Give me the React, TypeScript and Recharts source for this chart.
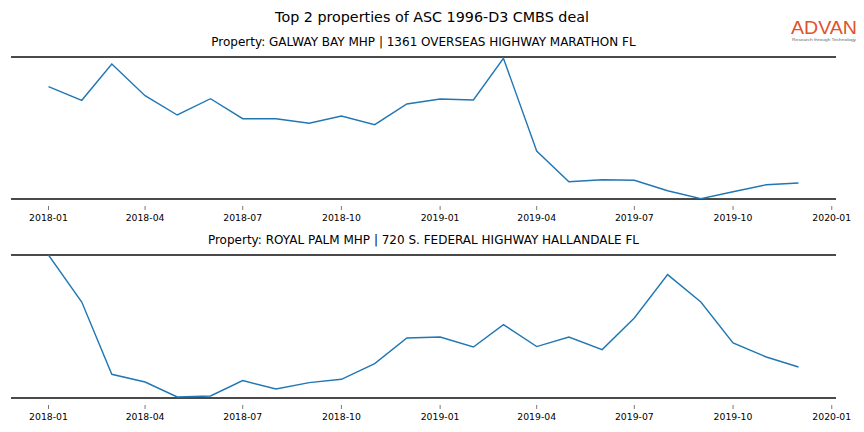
import React from "react";
import { LineChart, Line, XAxis, YAxis, ReferenceLine } from "recharts";

const months: string[] = [
  "2018-01", "2018-02", "2018-03", "2018-04", "2018-05", "2018-06",
  "2018-07", "2018-08", "2018-09", "2018-10", "2018-11", "2018-12",
  "2019-01", "2019-02", "2019-03", "2019-04", "2019-05", "2019-06",
  "2019-07", "2019-08", "2019-09", "2019-10", "2019-11", "2019-12",
];

const galwayBay: number[] = [
  112.3, 98.7, 135, 103.3, 84, 100.3, 80.3, 80.3, 75.7, 83, 74.3, 95,
  100, 99, 140.7, 48, 17.3, 19.3, 18.7, 8.3, 0.3, 7.3, 14.3, 16,
];

const royalPalm: number[] = [
  143, 96, 23.7, 16, 1, 2, 17.4, 9, 15.4, 18.7, 34.4, 60,
  61, 51, 73.4, 51.4, 61, 48.4, 80, 123.4, 96, 55, 41, 31,
];

const tickLabels: string[] = [
  "2018-01", "2018-04", "2018-07", "2018-10", "2019-01",
  "2019-04", "2019-07", "2019-10", "2020-01",
];

const mainTitle = "Top 2 properties of ASC 1996-D3 CMBS deal";
const subTitle1 = "Property: GALWAY BAY MHP | 1361 OVERSEAS HIGHWAY MARATHON FL";
const subTitle2 = "Property: ROYAL PALM MHP | 720 S. FEDERAL HIGHWAY HALLANDALE FL";

const toTs = (m: string) => {
  const [y, mo] = m.split("-").map(Number);
  return Date.UTC(y, mo - 1, 1);
};

const data1 = months.map((m, i) => ({ t: toTs(m), v: galwayBay[i] }));
const data2 = months.map((m, i) => ({ t: toTs(m), v: royalPalm[i] }));
const tickTs = tickLabels.map(toTs);
const labelOf = (ts: number) => {
  const i = tickTs.indexOf(ts);
  return i >= 0 ? tickLabels[i] : "";
};

const t0 = toTs(months[0]);
const t1 = toTs(months[months.length - 1]);
const pad = (t1 - t0) * 0.05;
const xDomain: [number, number] = [t0 - pad, t1 + pad];

const FONT = "'DejaVu Sans', sans-serif";
const SPINE = "#4a4a4a";

const Tick = (props: any) => {
  const { x, y, payload } = props;
  return (
    <g>
      <line x1={x} x2={x} y1={y + 7} y2={y + 11} stroke="#555" strokeWidth={0.8} />
      <text x={x} y={y + 22} textAnchor="middle" fontSize={9.3} fontFamily={FONT} fill="#000">
        {labelOf(payload.value)}
      </text>
    </g>
  );
};

const Panel = ({ data, yMax, top, bottom, height }: any) => (
  <LineChart
    width={864}
    height={height}
    data={data}
    margin={{ top, right: 28, left: 11, bottom: 0 }}
    style={{ position: "absolute", left: 0, top: 0 }}
  >
    <XAxis
      dataKey="t"
      type="number"
      scale="time"
      domain={xDomain}
      ticks={tickTs}
      interval={0}
      tickSize={0}
      tickMargin={0}
      tickLine={false}
      axisLine={false}
      height={height - bottom}
      tick={<Tick />}
      allowDataOverflow
    />
    <YAxis hide domain={[0, yMax]} allowDataOverflow />
    <ReferenceLine y={yMax} stroke={SPINE} strokeWidth={2} ifOverflow="extendDomain" />
    <ReferenceLine y={0} stroke={SPINE} strokeWidth={2} ifOverflow="extendDomain" />
    <Line
      type="linear"
      dataKey="v"
      stroke="#1f77b4"
      strokeWidth={1.4}
      dot={false}
      isAnimationActive={false}
    />
  </LineChart>
);

export default function App() {
  return (
    <div
      style={{
        position: "absolute",
        left: 0,
        top: 0,
        width: 864,
        height: 432,
        background: "#fff",
        overflow: "hidden",
      }}
    >
      <Panel data={data1} yMax={142} top={57} bottom={199} height={232} />
      <Panel data={data2} yMax={143} top={255} bottom={398} height={432} />
      <svg
        width={864}
        height={432}
        style={{ position: "absolute", left: 0, top: 0, pointerEvents: "none" }}
      >
        <text x={432} y={22} textAnchor="middle" fontSize={14.3} fontFamily={FONT} fill="#000">
          {mainTitle}
        </text>
        <text x={423.5} y={46} textAnchor="middle" fontSize={12} fontFamily={FONT} fill="#000">
          {subTitle1}
        </text>
        <text x={423.5} y={244} textAnchor="middle" fontSize={12} fontFamily={FONT} fill="#000">
          {subTitle2}
        </text>
        <text
          x={791}
          y={34}
          fontSize={18}
          fontFamily="'Liberation Sans', Arial, sans-serif"
          fill="#e0522a"
          textLength={66}
          lengthAdjust="spacingAndGlyphs"
        >
          ADVAN
        </text>
        <text
          x={792}
          y={40.5}
          fontSize={4.3}
          fontFamily="'Liberation Sans', Arial, sans-serif"
          fill="#666"
          textLength={64}
          lengthAdjust="spacingAndGlyphs"
        >
          Research through Technology
        </text>
      </svg>
    </div>
  );
}
